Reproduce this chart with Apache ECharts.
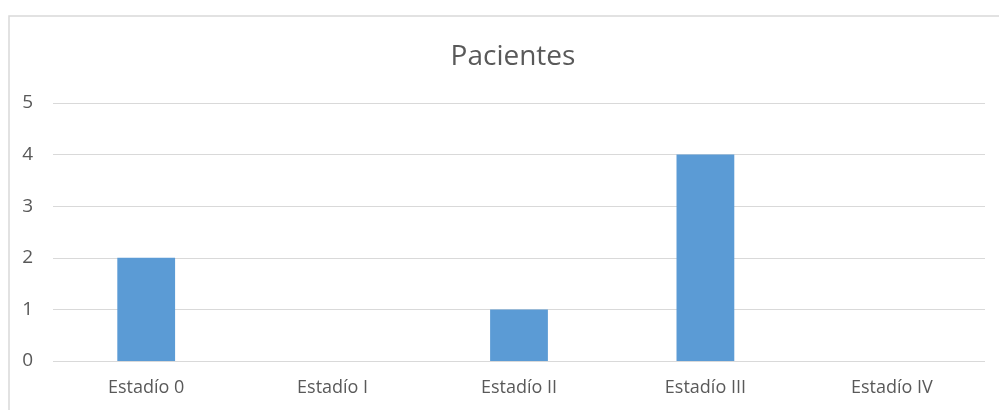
<!DOCTYPE html>
<html>
<head>
<meta charset="utf-8">
<script src="https://cdn.jsdelivr.net/npm/echarts@6/dist/echarts.min.js"></script>
<style>
  html, body { margin: 0; padding: 0; background: #ffffff; }
  #chart { width: 999px; height: 410px; }
</style>
</head>
<body>
<div id="chart"></div>
<script>
// Patients per stage
const categories = ['Estadío 0', 'Estadío I', 'Estadío II', 'Estadío III', 'Estadío IV'];
const patients = [2, 0, 1, 4, 0];
const yTicks = [0, 1, 2, 3, 4, 5];

const FONT = '"Open Sans", "Noto Sans", sans-serif';
const chart = echarts.init(document.getElementById('chart'), null, { renderer: 'canvas' });

chart.setOption({
  backgroundColor: '#ffffff',
  animation: false,
  title: {
    text: 'Pacientes',
    left: 508,
    textAlign: 'center',
    top: 38,
    textStyle: { color: '#595959', fontFamily: FONT, fontSize: 28, fontWeight: 'normal' }
  },
  graphic: [{
    type: 'rect',
    shape: { x: 9, y: 16, width: 1010, height: 420 },
    style: { fill: 'none', stroke: '#d9d9d9', lineWidth: 1.5 },
    silent: true
  }],
  grid: { left: 53, right: 14, top: 103, bottom: 49, containLabel: false },
  xAxis: {
    type: 'category',
    data: categories,
    axisLine: { show: false },
    axisTick: { show: false },
    axisLabel: { color: '#595959', fontFamily: FONT, fontSize: 18, margin: 18 }
  },
  yAxis: {
    type: 'value',
    min: yTicks[0],
    max: yTicks[yTicks.length - 1],
    interval: 1,
    axisLine: { show: false },
    axisTick: { show: false },
    axisLabel: { color: '#595959', fontFamily: FONT, fontSize: 19, margin: 20 },
    splitLine: { lineStyle: { color: '#d9d9d9', width: 1 } }
  },
  series: [{
    type: 'bar',
    data: patients,
    barWidth: '31%',
    itemStyle: { color: '#5b9bd5' }
  }]
});
</script>
</body>
</html>
